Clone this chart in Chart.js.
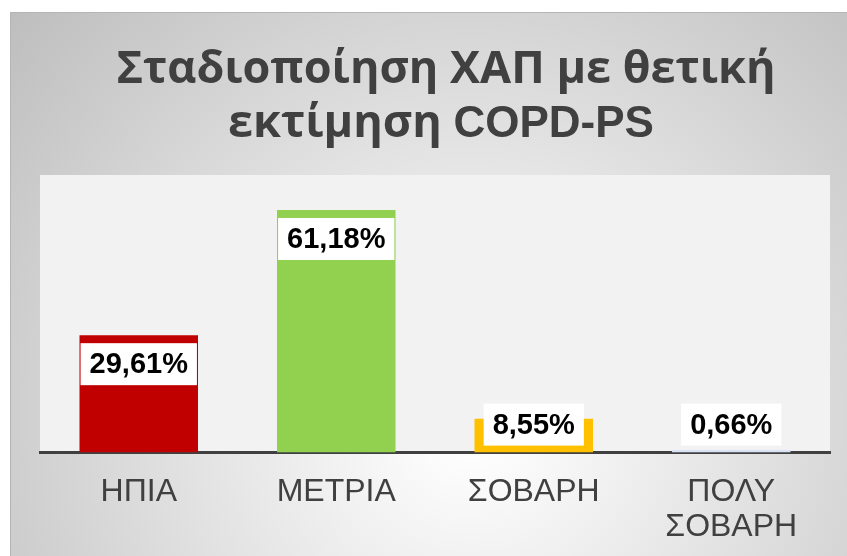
<!DOCTYPE html>
<html>
<head>
<meta charset="utf-8">
<script src="https://cdn.jsdelivr.net/npm/chart.js@4"></script>
<style>
    html, body { margin: 0; padding: 0; background: #fff; }
    #wrap { width: 847px; height: 556px; position: relative; }
</style>
</head>
<body>
<div id="wrap"><canvas id="chart"></canvas></div>
<script>
const categories = ['ΗΠΙΑ', 'ΜΕΤΡΙΑ', 'ΣΟΒΑΡΗ', ['ΠΟΛΥ', 'ΣΟΒΑΡΗ']]
const percents = [29.61, 61.18, 8.55, 0.66]
const valueLabels = ['29,61%', '61,18%', '8,55%', '0,66%']
const barColors = ['#c00000', '#92d050', '#ffc000', '#dae3f3']
const titleLine1 = ['Σταδιοποίηση ΧΑΠ με θετική']
const titleLine2 = ['εκτίμηση ', 'COPD-PS']

const greekFont = 'bold 45px "Open Sans", sans-serif'
const latinFont = 'bold 44px "Liberation Sans", Arial, sans-serif'

// draws pieces of a line side by side, greek pieces in one face, latin in another
const drawLine = (c, parts, cx, y) => {
    const fonts = parts.map(p => /[A-Z]/.test(p) ? latinFont : greekFont)
    let total = 0
    parts.forEach((p, i) => { c.font = fonts[i]; total += c.measureText(p).width })
    let x = cx - total / 2
    parts.forEach((p, i) => {
        c.font = fonts[i]
        c.fillText(p, x, y)
        x += c.measureText(p).width
    })
}

// panel gradient, light plot area and the two title lines
const backdrop = {
    id: 'backdrop',
    beforeDraw(chart) {
        const c = chart.ctx
        const a = chart.chartArea
        c.save()
        c.fillStyle = '#fff'
        c.fillRect(0, 0, chart.width, chart.height)
        let g = c.createRadialGradient(470, 420, 20, 470, 420, 620)
        g.addColorStop(0, '#ffffff')
        g.addColorStop(1, '#bdbdbd')
        c.fillStyle = g
        c.fillRect(10, 12, chart.width - 10, chart.height - 12)
        c.strokeStyle = '#b5b5b5'
        c.lineWidth = 1
        c.beginPath()
        c.moveTo(10.5, chart.height)
        c.lineTo(10.5, 12.5)
        c.lineTo(chart.width, 12.5)
        c.stroke()
        c.fillStyle = '#f2f2f2'
        c.fillRect(a.left, a.top, a.right - a.left, a.bottom - a.top)

        c.fillStyle = '#404040'
        c.textAlign = 'left'
        c.textBaseline = 'alphabetic'
        drawLine(c, titleLine1, 446, 83)
        drawLine(c, titleLine2, 441, 137)
        c.restore()
    }
}

// white boxes with the percentages
const boxLabels = {
    id: 'boxLabels',
    afterDatasetsDraw(chart) {
        const c = chart.ctx
        const meta = chart.getDatasetMeta(0)
        const base = chart.scales.y.getPixelForValue(0)
        c.save()
        c.font = 'bold 29px "Liberation Sans", Arial, sans-serif'
        c.textAlign = 'center'
        c.textBaseline = 'middle'
        meta.data.forEach((bar, i) => {
            const txt = valueLabels[i]
            const w = c.measureText(txt).width + 18
            const h = 42
            const top = Math.min(bar.y + 8, base - 7 - h)
            c.fillStyle = '#fff'
            c.fillRect(bar.x - w / 2, top, w, h)
            c.fillStyle = '#000'
            c.fillText(txt, bar.x, top + h / 2 + 1)
        })
        c.restore()
    }
}

new Chart(document.querySelector('#chart').getContext('2d'), {
    type: 'bar',
    data: {
        labels: categories,
        datasets: [{
            data: percents,
            backgroundColor: barColors,
            borderWidth: 0,
            barPercentage: 0.6,
            categoryPercentage: 1
        }]
    },
    options: {
        responsive: true,
        maintainAspectRatio: false,
        animation: false,
        devicePixelRatio: 1,
        layout: { padding: { left: 40, right: 17, top: 175, bottom: -11 } },
        plugins: {
            legend: { display: false },
            tooltip: { enabled: false },
            title: { display: false }
        },
        scales: {
            y: { display: false, min: 0, max: 70 },
            x: {
                grid: { display: false, drawTicks: false },
                border: { color: '#404040', width: 3 },
                ticks: {
                    color: '#404040',
                    font: { family: '"Liberation Sans", Arial, sans-serif', size: 32, lineHeight: 1.1 },
                    padding: 22,
                    maxRotation: 0,
                    autoSkip: false
                }
            }
        }
    },
    plugins: [backdrop, boxLabels]
})
</script>
</body>
</html>
